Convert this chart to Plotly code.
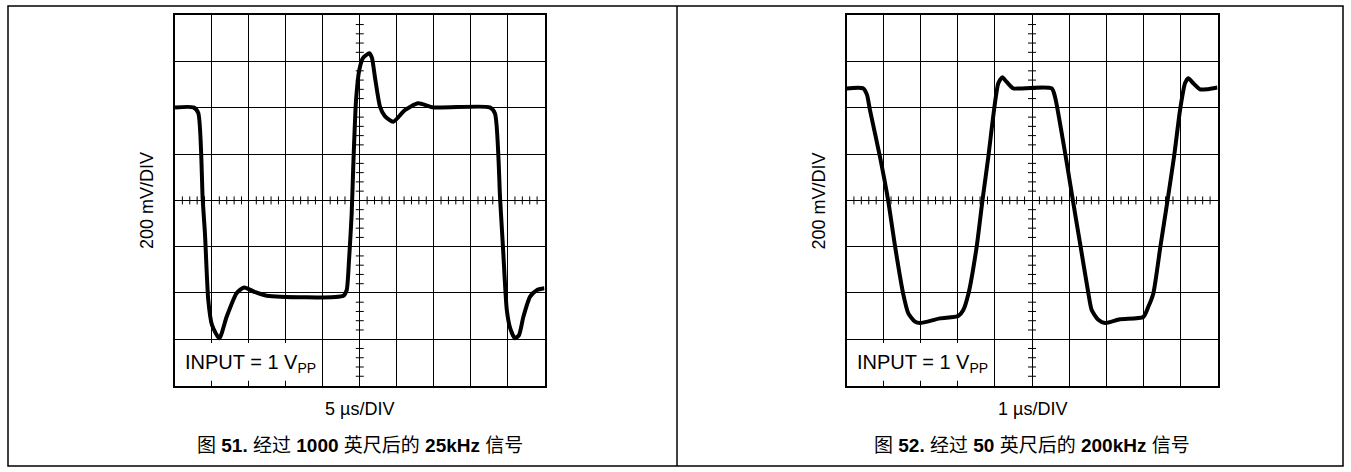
import plotly.graph_objects as go

# ---------------- data ----------------
# Left scope: 5 us/DIV, 200 mV/DIV
LEFT_T_US = [-25.0, -22.5, -21.85, -21.25, -20.95, -20.5, -20.0, -19.0, -18.0, -16.65,
             -15.65, -14.2, -12.6, -2.2, -1.77, -1.45, -1.09, -0.88, -0.5, -0.06,
             0.45, 1.3, 1.65, 2.05, 2.75, 3.4, 4.55, 6.1, 7.9, 9.95,
             17.6, 18.3, 19.0, 19.4, 19.9, 20.35, 21.0, 21.55, 22.15, 23.05,
             23.95, 25.0]
LEFT_V_MV = [402, 402, 378, 2, -140, -430, -538, -596, -502, -400,
             -376, -396, -412, -412, -388, -258, -56, 146, 434, 564,
             616, 636, 616, 534, 404, 364, 340, 390, 420, 402,
             402, 376, 2, -214, -474, -552, -596, -582, -502, -416,
             -388, -380]

# Right scope: 1 us/DIV, 200 mV/DIV
RIGHT_T_US = [-5.0, -4.547, -4.447, -4.367, -4.10, -3.88, -3.69, -3.469, -3.334, -3.154,
              -3.019, -2.48, -1.987, -1.852, -1.717, -1.491, -1.334, -1.178, -1.024, -0.908,
              -0.80, -0.682, -0.504, -0.323, 0.531, 0.62, 0.78, 0.95, 1.10, 1.31,
              1.52, 1.609, 1.787, 1.968, 2.372, 3.0, 3.135, 3.27, 3.46, 3.655,
              3.835, 3.99, 4.124, 4.213, 4.348, 4.528, 4.709, 5.0]
RIGHT_V_MV = [484, 484, 456, 390, 190, 2, -200, -406, -488, -524,
              -530, -510, -500, -474, -406, -200, 2, 188, 390, 506,
              532, 512, 484, 484, 484, 448, 310, 150, 2, -200,
              -402, -474, -516, -530, -514, -504, -460, -402, -200, 2,
              196, 390, 506, 528, 506, 480, 480, 488]

X_LABELS = ["5 µs/DIV", "1 µs/DIV"]
Y_LABEL = "200 mV/DIV"
INPUT_LABEL = "INPUT = 1 V<sub>PP</sub>"
CAPTIONS = ["图 <b>51.</b> 经过 <b>1000</b> 英尺后的 <b>25kHz</b> 信号",
            "图 <b>52.</b> 经过 <b>50</b> 英尺后的 <b>200kHz</b> 信号"]
US_PER_DIV = [5, 1]
MV_PER_DIV = 200

# ---------------- layout helpers ----------------
W, H = 1351, 472
FONT = "Liberation Sans, Arial, Noto Sans CJK SC, sans-serif"


def pxx(x):
    return x / W


def pxy(y):
    return 1 - y / H


GRID_X = [(175.0, 544.5), (846.5, 1217.5)]
GRID_Y = (15.3, 385.5)

fig = go.Figure()

panels = [
    dict(t=LEFT_T_US, v=LEFT_V_MV, xa="x", ya="y", xkey="xaxis", ykey="yaxis"),
    dict(t=RIGHT_T_US, v=RIGHT_V_MV, xa="x2", ya="y2", xkey="xaxis2", ykey="yaxis2"),
]

shapes = []
annotations = []
layout_axes = {}

for i, p in enumerate(panels):
    xd = US_PER_DIV[i]
    yd = MV_PER_DIV
    x0px, x1px = GRID_X[i]
    ppdx = (x1px - x0px) / 10.0
    ppdy = (GRID_Y[1] - GRID_Y[0]) / 8.0

    fig.add_trace(go.Scatter(
        x=p["t"], y=p["v"], mode="lines", xaxis=p["xa"], yaxis=p["ya"],
        line=dict(color="black", width=4, shape="spline", smoothing=0.6),
        hoverinfo="skip", showlegend=False,
    ))

    common = dict(showgrid=True, gridcolor="black", gridwidth=1,
                  showline=True, mirror=True, linecolor="black", linewidth=2,
                  showticklabels=False, ticks="", zeroline=True,
                  zerolinecolor="black", zerolinewidth=1, fixedrange=True)
    layout_axes[p["xkey"]] = dict(common, domain=[pxx(x0px), pxx(x1px)],
                                  range=[-5 * xd, 5 * xd], dtick=xd, tick0=0,
                                  anchor=p["ya"])
    layout_axes[p["ykey"]] = dict(common, domain=[pxy(GRID_Y[1]), pxy(GRID_Y[0])],
                                  range=[-4 * yd, 4 * yd], dtick=yd, tick0=0,
                                  anchor=p["xa"])

    # minor ticks on the centre cross-hair (every 1/5 division)
    hx = 4.0 / ppdx * xd   # half tick length in x units
    hy = 4.0 / ppdy * yd   # half tick length in y units
    for k in range(-25, 26):
        if k % 5 == 0:
            continue
        xv = k * xd / 5.0
        shapes.append(dict(type="line", xref=p["xa"], yref=p["ya"], layer="between",
                           x0=xv, x1=xv, y0=-hy, y1=hy,
                           line=dict(color="black", width=1)))
    for k in range(-20, 21):
        if k % 5 == 0:
            continue
        yv = k * yd / 5.0
        shapes.append(dict(type="line", xref=p["xa"], yref=p["ya"], layer="between",
                           x0=-hx, x1=hx, y0=yv, y1=yv,
                           line=dict(color="black", width=1)))

    # white box behind the INPUT label (hides the grid)
    shapes.append(dict(type="rect", xref=p["xa"], yref=p["ya"], layer="between",
                       x0=-5 * xd, x1=-1.03 * xd, y0=-3.9 * yd, y1=-3.08 * yd,
                       fillcolor="white", line=dict(width=0)))
    annotations.append(dict(xref=p["xa"], yref=p["ya"], x=-4.78 * xd, y=-3.52 * yd,
                            xanchor="left", yanchor="middle", showarrow=False,
                            text=INPUT_LABEL, font=dict(family=FONT, size=20, color="black")))

    cx = (x0px + x1px) / 2.0
    annotations.append(dict(xref="paper", yref="paper", x=pxx(x0px - 28), y=pxy(201),
                            xanchor="center", yanchor="middle", textangle=-90,
                            showarrow=False, text=Y_LABEL,
                            font=dict(family=FONT, size=18, color="black")))
    annotations.append(dict(xref="paper", yref="paper", x=pxx(cx), y=pxy(409),
                            xanchor="center", yanchor="middle", showarrow=False,
                            text=X_LABELS[i], font=dict(family=FONT, size=18, color="black")))
    annotations.append(dict(xref="paper", yref="paper", x=pxx(cx), y=pxy(445),
                            xanchor="center", yanchor="middle", showarrow=False,
                            text=CAPTIONS[i], font=dict(family=FONT, size=19, color="black")))

# outer frame and divider
shapes.append(dict(type="rect", xref="paper", yref="paper",
                   x0=pxx(8), x1=pxx(1343), y0=pxy(466), y1=pxy(6),
                   line=dict(color="black", width=1.5), fillcolor="rgba(0,0,0,0)"))
shapes.append(dict(type="line", xref="paper", yref="paper",
                   x0=pxx(677), x1=pxx(677), y0=pxy(466), y1=pxy(6),
                   line=dict(color="black", width=1.5)))

fig.update_layout(
    width=W, height=H, margin=dict(l=0, r=0, t=0, b=0, pad=0),
    paper_bgcolor="white", plot_bgcolor="white",
    shapes=shapes, annotations=annotations, showlegend=False,
    **layout_axes,
)

fig.write_html("out.html",
               config={"displayModeBar": False, "staticPlot": True},
               post_script="document.body.style.margin='0';document.body.style.padding='0';")
